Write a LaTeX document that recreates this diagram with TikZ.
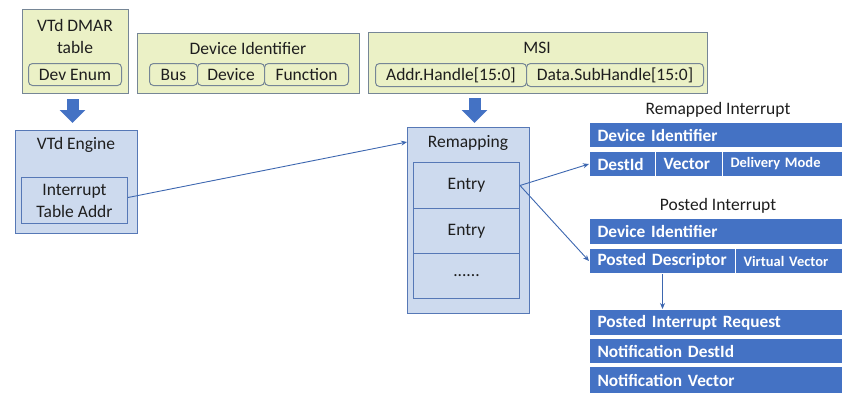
\documentclass[tikz,border=0pt]{standalone}
\usepackage{fontspec}
\setmainfont{Carlito}
\usetikzlibrary{arrows.meta}
\definecolor{ylw}{RGB}{235,241,198}
\definecolor{ylwb}{RGB}{118,134,150}
\definecolor{lbl}{RGB}{205,218,238}
\definecolor{lblb}{RGB}{86,120,182}
\definecolor{bar}{RGB}{68,114,196}
\definecolor{txt}{RGB}{30,30,30}
\tikzset{
  ybox/.style={draw=ylwb, fill=ylw, line width=1pt, anchor=north west, inner sep=0pt},
  yin/.style={ybox, rounded corners=4pt, font=\fontsize{17.5}{20}\selectfont, text=txt},
  bbox/.style={draw=lblb, fill=lbl, line width=1pt, anchor=north west, inner sep=0pt, font=\fontsize{17.5}{20}\selectfont, text=txt},
  lbl/.style={font=\fontsize{17.5}{22}\selectfont, text=txt, align=center, inner sep=0pt},
  cell/.style={fill=bar, draw=white, line width=1pt, anchor=north west, inner sep=0pt, text=white, font=\bfseries\fontsize{17.3}{20}\selectfont},
  cellt/.style={cell, text width=#1, align=left},
  small/.style={font=\bfseries\fontsize{14.5}{17}\selectfont},
  bigarrow/.style={draw=bar, line width=12pt, -{Triangle[width=25pt,length=13pt]}},
  conn/.style={draw=bar!90!black, line width=0.9pt, -{Stealth[length=6pt,width=5pt]}},
}
\begin{document}
\begin{tikzpicture}[x=1pt,y=-1pt]
\useasboundingbox (0,0) rectangle (855,405);
% top yellow boxes
\node[ybox, minimum width=106, minimum height=84] (dmar) at (22,9) {};
\node[lbl] (dmart) at (75,36) {VTd DMAR\\table};
\node[yin, minimum width=93, minimum height=22] (devenum) at (28,63) {Dev Enum};

\node[ybox, minimum width=222, minimum height=60] (devid) at (137,33) {};
\node[lbl] (devidt) at (248,48) {Device Identifier};
\node[yin, minimum width=48, minimum height=22] (bus) at (149,63) {Bus};
\node[yin, minimum width=67, minimum height=22] (device) at (197,63) {Device};
\node[yin, minimum width=84, minimum height=22] (function) at (264,63) {Function};

\node[ybox, minimum width=339, minimum height=61] (msi) at (368,32) {};
\node[lbl] (msit) at (537,48) {MSI};
\node[yin, minimum width=151, minimum height=23] (addr) at (375,63) {Addr.Handle[15:0]};
\node[yin, minimum width=177, minimum height=23] (data) at (526,63) {Data.SubHandle[15:0]};

% VTd engine
\node[bbox, minimum width=122, minimum height=103] (vtd) at (15,130) {};
\node[lbl] (vtdt) at (76,145) {VTd Engine};
\node[bbox, minimum width=106, minimum height=46, align=center, font=\fontsize{17.5}{22}\selectfont] (ita) at (21,177) {Interrupt\\Table Addr};

% Remapping
\node[bbox, minimum width=122, minimum height=186] (remap) at (407,127) {};
\node[lbl] (remapt) at (468,143) {Remapping};
\node[bbox, minimum width=106, minimum height=46] (e1) at (413,162) {Entry};
\node[bbox, minimum width=106, minimum height=45] (e2) at (413,208) {Entry};
\node[bbox, minimum width=106, minimum height=45] (e3) at (413,253) {......};

% big arrows
\draw[bigarrow] ([shift={(-3,5)}]dmar.south) -- ([shift={(-4,-7)}]vtd.north);
\draw[bigarrow] ([shift={(6,-29)}]remap.north) -- ([shift={(6,-4)}]remap.north);

% Remapped interrupt
\node[lbl] (rit) at (718,110) {Remapped Interrupt};
\node[cellt=237pt, minimum height=25, inner xsep=8pt] (rdev) at (589,122) {Device Identifier};
\node[cellt=50pt, minimum height=25, inner xsep=8pt] (dest) at (589,151) {DestId};
\node[cellt=51pt, minimum height=25, inner xsep=8pt] (vec) at (655,151) {Vector};
\node[cellt=104pt, minimum height=25, inner xsep=8pt, small] (dm) at (722,151) {Delivery Mode};

% Posted interrupt
\node[lbl] (pit) at (718,206) {Posted Interrupt};
\node[cellt=237pt, minimum height=26, inner xsep=8pt] (pdev) at (589,218) {Device Identifier};
\node[cellt=130pt, minimum height=25, inner xsep=8pt] (pdesc) at (589,248) {Posted Descriptor};
\node[cellt=91pt, minimum height=25, inner xsep=8pt, small] (vv) at (735,248) {Virtual Vector};

\node[cellt=237pt, minimum height=26, inner xsep=8pt] (pir) at (589,309) {Posted Interrupt Request};
\node[cellt=237pt, minimum height=25, inner xsep=8pt] (nd) at (589,338) {Notification DestId};
\node[cellt=237pt, minimum height=27, inner xsep=8pt] (nv) at (589,366) {Notification Vector};

% connectors
\draw[conn] ([shift={(0,-3)}]ita.east) -- ([shift={(0,15)}]remap.north west);
\draw[conn] (e1.east) -- (dest.west);
\draw[conn] (e1.east) -- (pdesc.west);
\draw[conn] (pdesc.south) -- (pdesc.south |- pir.north);
\end{tikzpicture}
\end{document}
